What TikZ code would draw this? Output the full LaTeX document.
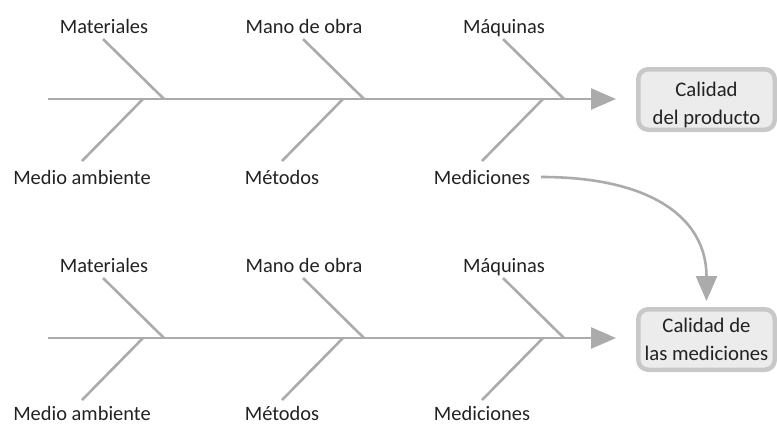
\documentclass[tikz,border=0pt]{standalone}
\usepackage{fontspec}
\setmainfont{Carlito}
\usetikzlibrary{arrows.meta}
\definecolor{ln}{HTML}{ABABAB}
\definecolor{bx}{HTML}{C8C8C8}
\definecolor{bf}{HTML}{ECECEC}
\definecolor{tx}{HTML}{222222}
\begin{document}
\begin{tikzpicture}[x=1bp,y=-1bp,
  lbl/.style={font=\fontsize{20.5}{24}\selectfont, text=tx, inner sep=0pt, anchor=base},
  bone/.style={draw=ln, line width=2.6bp},
  spine/.style={bone, -{Triangle[length=25bp,width=21bp]}},
  effect/.style={draw=bx, fill=bf, line width=4.5bp, rounded corners=10bp,
    minimum width=136.5bp, minimum height=60.5bp, align=center,
    font=\fontsize{20.8}{28}\selectfont, text=tx, inner sep=0pt}]
\useasboundingbox (0,0) rectangle (777,424);
\node[effect, text height=53bp] (effA) at (706.5,99.5) {Calidad\\del producto};
\node[effect] (effB) at (706.5,339.5) {Calidad de\\las mediciones};
\foreach \o/\s in {0/A,239/B} {
  \coordinate (sp\s) at (48,99+\o);
  \draw[spine, shorten >=20bp] (sp\s) -- (sp\s -| eff\s.west);
  \foreach \c/\up/\lo in {0/Materiales/Medio ambiente, 1/Mano de obra/Métodos, 2/Máquinas/Mediciones} {
    \node[lbl] (u\s\c) at (104+200*\c,33+\o) {\up};
    \node[lbl] (l\s\c) at (82+200*\c,184+\o-\o/80) {\lo};
    \coordinate (ut\s\c) at (103+200*\c,39+\o);
    \coordinate (uj\s\c) at (164+200*\c,99+\o);
    \coordinate (lj\s\c) at (143+200*\c,99+\o);
    \coordinate (lt\s\c) at (82+200*\c,161+\o);
    \draw[bone] (ut\s\c) -- (uj\s\c);
    \draw[bone] (lj\s\c) -- (lt\s\c);
  }
}
\draw[spine, shorten <=11bp, shorten >=6bp] (lA2.east) .. controls +(121,0) and +(0,-89) .. (effB.north);
\end{tikzpicture}
\end{document}
